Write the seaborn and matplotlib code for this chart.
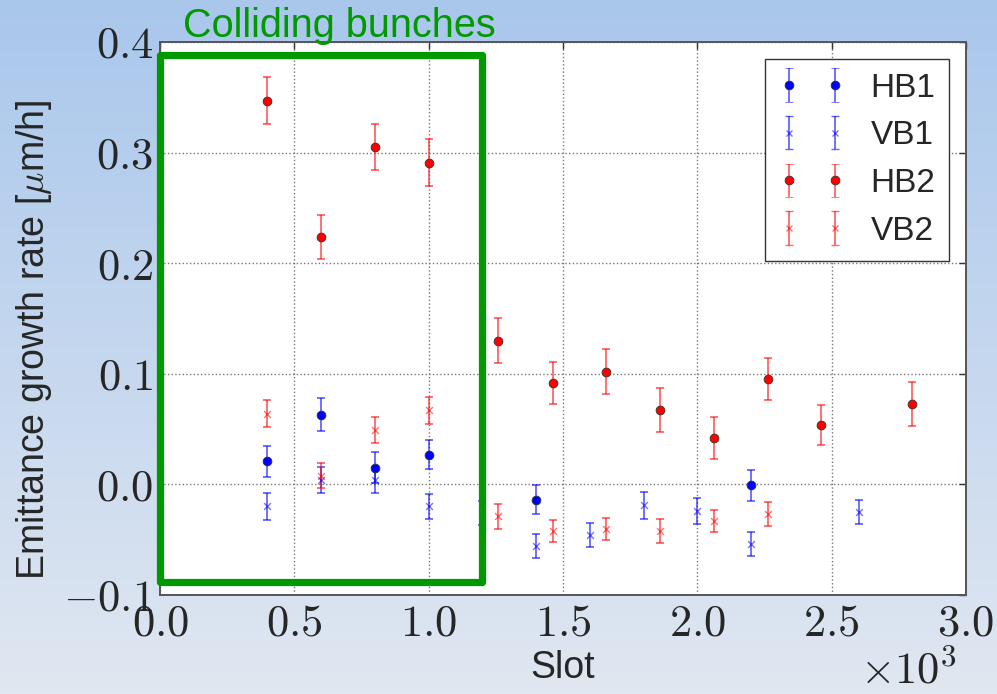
import numpy as np
import pandas as pd
import matplotlib
matplotlib.use("Agg")
import matplotlib.pyplot as plt
import matplotlib.patches as mpatches
from matplotlib.ticker import FuncFormatter
import seaborn as sns

# Emittance growth rates per bunch slot (µm/h) with their uncertainties
slots_hb1 = [400, 600, 800, 1000, 1400, 2200]
hb1 = [0.021, 0.063, 0.015, 0.027, -0.014, -0.001]
hb1_err = [0.014, 0.015, 0.014, 0.013, 0.013, 0.014]

slots_vb1 = [400, 600, 800, 1000, 1200, 1400, 1600, 1800, 2000, 2200, 2600]
vb1 = [-0.020, 0.004, 0.004, -0.020, -0.026, -0.056, -0.046, -0.019, -0.024, -0.054, -0.025]
vb1_err = [0.012, 0.012, 0.012, 0.011, 0.011, 0.011, 0.011, 0.012, 0.012, 0.011, 0.011]

slots_hb2 = [400, 600, 800, 1000, 1258, 1462, 1660, 1861, 2061, 2262, 2459, 2798]
hb2 = [0.347, 0.224, 0.305, 0.291, 0.130, 0.092, 0.102, 0.067, 0.042, 0.095, 0.054, 0.073]
hb2_err = [0.021, 0.020, 0.021, 0.021, 0.020, 0.019, 0.020, 0.020, 0.019, 0.019, 0.018, 0.020]

slots_vb2 = [400, 600, 800, 1000, 1258, 1462, 1660, 1861, 2061, 2262]
vb2 = [0.064, 0.008, 0.049, 0.067, -0.029, -0.042, -0.040, -0.042, -0.033, -0.027]
vb2_err = [0.012, 0.011, 0.012, 0.012, 0.011, 0.010, 0.010, 0.011, 0.010, 0.011]

series_names = ["HB1", "VB1", "HB2", "VB2"]
x_ticks = [0, 500, 1000, 1500, 2000, 2500, 3000]
y_ticks = [-0.1, 0.0, 0.1, 0.2, 0.3, 0.4]

frames = []
for name, xs, ys, es in [("HB1", slots_hb1, hb1, hb1_err),
                         ("VB1", slots_vb1, vb1, vb1_err),
                         ("HB2", slots_hb2, hb2, hb2_err),
                         ("VB2", slots_vb2, vb2, vb2_err)]:
    frames.append(pd.DataFrame({"slot": xs, "rate": ys, "err": es, "series": name}))
df = pd.concat(frames, ignore_index=True)

sns.set_style("white")
plt.rcParams["font.family"] = ["Liberation Sans", "DejaVu Sans"]
plt.rcParams["mathtext.fontset"] = "cm"

styles = {
    "HB1": dict(color="#0000ff", marker="o", alpha_pt=1.0, s=40),
    "VB1": dict(color="#0000ff", marker="x", alpha_pt=0.55, s=24),
    "HB2": dict(color="#ff0000", marker="o", alpha_pt=1.0, s=40),
    "VB2": dict(color="#ff0000", marker="x", alpha_pt=0.55, s=24),
}

fig = plt.figure(figsize=(9.97, 6.94), dpi=100)

# slide-style vertical gradient behind everything
bg = fig.add_axes([0, 0, 1, 1], zorder=-10)
top = np.array([0.663, 0.780, 0.925])
bottom = np.array([0.878, 0.906, 0.945])
t = np.linspace(0, 1, 256)[:, None]
grad = (top[None, :] * (1 - t) + bottom[None, :] * t)[:, None, :]
bg.imshow(np.repeat(grad, 2, axis=1), aspect="auto", extent=[0, 1, 0, 1])
bg.axis("off")

ax = fig.add_axes([0.1605, 0.1427, 0.8084, 0.7968])
ax.set_facecolor("white")

handles = []
for name in series_names:
    st = styles[name]
    sub = df[df["series"] == name]
    ax.errorbar(sub["slot"], sub["rate"], yerr=sub["err"], fmt="none",
                ecolor=st["color"], elinewidth=1.3, capsize=2.8, capthick=1.3,
                alpha=0.6, zorder=2)
    if st["marker"] == "o":
        sns.scatterplot(data=sub, x="slot", y="rate", ax=ax, color=st["color"],
                        marker="o", s=st["s"], edgecolor="#333333", linewidth=0.6,
                        zorder=3, legend=False)
    else:
        sns.scatterplot(data=sub, x="slot", y="rate", ax=ax, color=st["color"],
                        marker="x", s=st["s"], linewidth=1.0, alpha=st["alpha_pt"],
                        zorder=3, legend=False)
    # legend proxy carrying marker + error bar style
    kw = dict(marker=st["marker"], linestyle="none", color=st["color"],
              ecolor=st["color"], elinewidth=1.3, capsize=2.8, capthick=1.3)
    if st["marker"] == "o":
        kw.update(markersize=6.3, markeredgecolor="#333333", markeredgewidth=0.6)
    else:
        kw.update(markersize=4.8, markeredgewidth=1.0)
    h = ax.errorbar([np.nan], [np.nan], yerr=[np.nan], label=name, **kw)
    for ln in h.lines[1] + h.lines[2]:
        ln.set_alpha(0.6)
    if st["marker"] == "x":
        h.lines[0].set_alpha(0.55)
    handles.append(h)

ax.set_xlim(0, 3000)
ax.set_ylim(-0.1, 0.4)
ax.set_xticks(x_ticks)
ax.set_yticks(y_ticks)
ax.xaxis.set_major_formatter(FuncFormatter(lambda v, p: r"$%.1f$" % (v / 1000.0)))
ax.yaxis.set_major_formatter(FuncFormatter(lambda v, p: r"$%.1f$" % (0.0 if abs(v) < 1e-9 else v)))
ax.tick_params(axis="both", which="major", direction="in", length=5, width=1,
               top=True, right=True, labelsize=32, color="#333333")
ax.tick_params(axis="x", pad=6)
ax.tick_params(axis="y", pad=5)
ax.grid(True, linestyle=":", color="#777777", linewidth=1.0, zorder=0)
ax.set_axisbelow(True)
for sp in ax.spines.values():
    sp.set_color("#555555")
    sp.set_linewidth(1.4)

ax.set_xlabel("Slot", fontsize=27, labelpad=4)
ax.set_ylabel(r"Emittance growth rate [$\mu$m/h]", fontsize=27)
ax.yaxis.set_label_coords(-0.132, 0.461)
ax.text(0.989, -0.1, r"$\times10^{3}$", transform=ax.transAxes, ha="right",
        va="top", fontsize=32)

# box marking the colliding bunches
box = mpatches.Rectangle((0, -0.088), 1200, 0.476, fill=False, edgecolor="#009900",
                         linewidth=5.2, joinstyle="round", clip_on=False, zorder=5)
ax.add_patch(box)
ax.text(0.0285, 1.009, "Colliding bunches", transform=ax.transAxes, ha="left",
        va="baseline", fontsize=28.5, color="#009900")

leg = ax.legend(handles=handles, labels=series_names, loc="upper right", numpoints=2,
                fontsize=24, frameon=True, fancybox=False, framealpha=1.0,
                edgecolor="#333333", borderaxespad=0.5, borderpad=0.42,
                labelspacing=0.5, handletextpad=0.75)
leg.get_frame().set_linewidth(1.0)
leg.set_zorder(6)

fig.savefig("out.png", dpi=100)
